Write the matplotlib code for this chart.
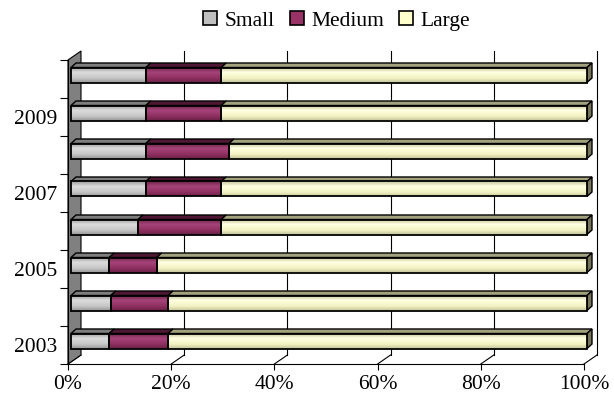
import numpy as np
import matplotlib
matplotlib.use('Agg')
import matplotlib.pyplot as plt
from matplotlib.patches import Polygon, Patch, Rectangle
from matplotlib.colors import LinearSegmentedColormap

# data (percent of total)
years = [2003, 2004, 2005, 2006, 2007, 2008, 2009, 2010]
small = [7.4, 7.7, 7.4, 13.0, 14.5, 14.5, 14.5, 14.5]
medium = [11.4, 11.1, 9.2, 16.1, 14.6, 16.1, 14.6, 14.6]
large = [100 - s - m for s, m in zip(small, medium)]
series_names = ['Small', 'Medium', 'Large']
tick_years = ['2003', '2005', '2007', '2009']

front_colors = ['#C0C0C0', '#993366', '#FFFFCC']
top_colors = ['#7E7E7E', '#4E1833', '#A2A27E']
side_color = '#75755A'
# shading of the front faces, top -> bottom
shades = [
    ['#9A9A9A', '#DCDCDC', '#C6C6C6', '#9E9E9E'],
    ['#6A2246', '#A6447A', '#8F3060', '#6E2449'],
    ['#C2C29A', '#FFFFE2', '#F2F2C2', '#CACAA2'],
]

plt.rcParams['font.family'] = ['Liberation Serif', 'DejaVu Serif']
plt.rcParams['font.size'] = 15.5

W, H = 614, 398
fig = plt.figure(figsize=(W / 100, H / 100), dpi=100)
ax_l, ax_r, ax_t, ax_b = 68, 584, 60, 364
ax = fig.add_axes([ax_l / W, (H - ax_b) / H, (ax_r - ax_l) / W, (ax_b - ax_t) / H])

# pixel -> data helpers for the fake 3d look
sx = (ax_r - ax_l) / 100.0
sy = (ax_b - ax_t) / 8.0
def off(px, py):
    return px / sx, py / sy

bdx, bdy = off(13, 9)      # back wall offset
fdx, fdy = off(3, 4)       # bar front face shift
ddx, ddy = off(5, 4.5)     # bar depth
bh = 15 / sy

# left wall
wall = Polygon([(0, -0.5), (0, 7.5), (bdx, 7.5 + bdy), (bdx, -0.5 + bdy)],
               closed=True, facecolor='#808080', edgecolor='black', lw=0.8,
               clip_on=False, zorder=1)
ax.add_patch(wall)

# back gridlines + floor diagonals
for xv in range(20, 101, 20):
    ax.plot([xv + bdx, xv + bdx], [-0.5 + bdy, 7.5 + bdy], color='black', lw=0.8,
            clip_on=False, zorder=0.5)
for xv in range(0, 101, 20):
    ax.plot([xv, xv + bdx], [-0.5, -0.5 + bdy], color='black', lw=0.8,
            clip_on=False, zorder=0.5)

ypos = np.arange(len(years))
yf = ypos + fdy
lefts = np.zeros(len(years))
grad = np.linspace(0, 1, 64).reshape(-1, 1)
for vals, fc, tc, sh in zip([small, medium, large], front_colors, top_colors, shades):
    vals = np.array(vals)
    cmap = LinearSegmentedColormap.from_list('shade', list(zip([0, 0.35, 0.75, 1], sh)))
    bars = ax.barh(yf, vals, left=lefts + fdx, height=bh, color=fc, edgecolor='none',
                   zorder=3, clip_on=False)
    for i, rect in enumerate(bars):
        l = lefts[i] + fdx
        r = l + vals[i]
        yt = yf[i] + bh / 2
        yb = yf[i] - bh / 2
        im = ax.imshow(grad, cmap=cmap, aspect='auto', extent=[l, r, yb, yt],
                       origin='upper', zorder=3.1, interpolation='bilinear')
        im.set_clip_path(rect)
        ax.add_patch(Rectangle((l, yb), vals[i], bh, fill=False, edgecolor='black',
                               lw=1.3, zorder=3.2, clip_on=False))
        top = Polygon([(l, yt), (r, yt), (r + ddx, yt + ddy), (l + ddx, yt + ddy)],
                      closed=True, facecolor=tc, edgecolor='black', lw=1.0,
                      zorder=2.5, clip_on=False)
        ax.add_patch(top)
    lefts = lefts + vals

# right end faces
for i in range(len(years)):
    r = lefts[i] + fdx
    yt = yf[i] + bh / 2
    yb = yf[i] - bh / 2
    side = Polygon([(r, yb), (r, yt), (r + ddx, yt + ddy), (r + ddx, yb + ddy)],
                   closed=True, facecolor=side_color, edgecolor='black', lw=1.0,
                   zorder=2.5, clip_on=False)
    ax.add_patch(side)

ax.set_xlim(0, 100)
ax.set_ylim(-0.5, 7.5)

# axes styling
for s in ['top', 'right']:
    ax.spines[s].set_visible(False)
ax.spines['left'].set_linewidth(0.8)
ax.spines['bottom'].set_linewidth(0.8)
ax.patch.set_visible(False)

ax.set_xticks(range(0, 101, 20))
ax.set_xticklabels([f'{v}%' for v in range(0, 101, 20)])
ax.tick_params(axis='x', length=4, width=0.8, pad=4)

ax.set_yticks([0, 2, 4, 6])
ax.set_yticklabels(tick_years)
ax.set_yticks(np.arange(-0.5, 8, 1), minor=True)
ax.tick_params(axis='y', which='major', length=0, pad=8)
ax.tick_params(axis='y', which='minor', length=6, width=0.8)

handles = [Patch(facecolor=c, edgecolor='black', lw=1.2) for c in front_colors]
fig.legend(handles, series_names, loc='center', bbox_to_anchor=(0.548, 0.948),
           ncol=3, frameon=False, handlelength=0.65, handleheight=0.65,
           handletextpad=0.35, columnspacing=0.7, fontsize=15.5)

fig.savefig('out.png', dpi=100)
